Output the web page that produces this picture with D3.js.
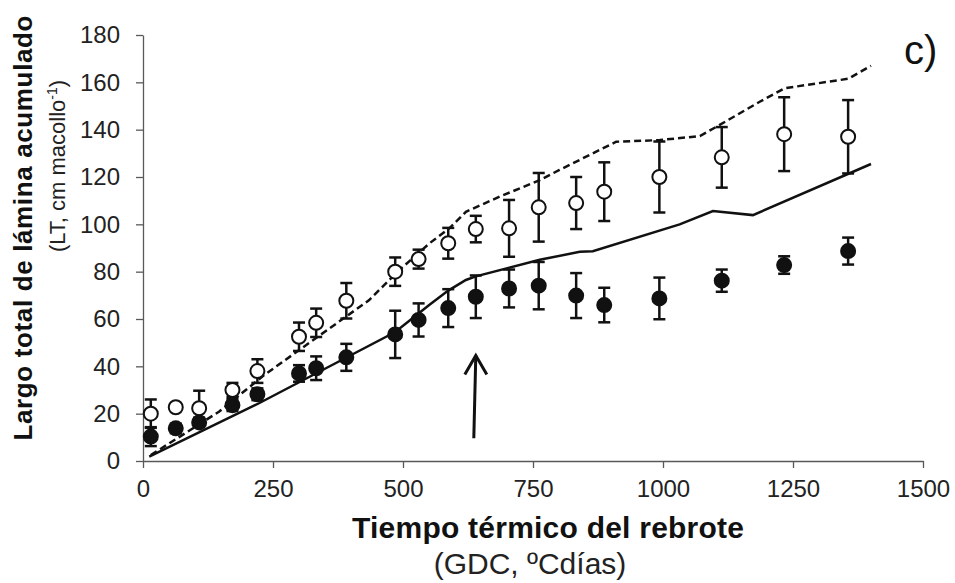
<html>
<meta charset="utf-8">
<script src="https://d3js.org/d3.v7.min.js"></script>
<style>
  body { margin: 0; background: white; }
  text { font-family: "Liberation Sans", Arial, sans-serif; }
</style>
<body>
<div id="chart"></div>
<script>

// observed points (GDC, LT) with error bars
var gdc = [15, 63, 108, 172, 220, 300, 333, 391, 485, 530, 587, 640, 704, 761, 833, 887, 993, 1113, 1233, 1356]
var ltOpen = [20, 22.7, 22.3, 30, 38, 52.5, 58.4, 67.7, 80, 85.3, 92, 98, 98.3, 107.2, 109, 113.8, 120, 128.3, 138.1, 137]
var errOpen = [6, 1.5, 7.4, 3, 5, 6, 6, 7.5, 6, 4, 6.5, 5.6, 12, 14.5, 11, 12.4, 15, 12.8, 15.6, 15.5]
var ltFilled = [10.3, 13.8, 16.3, 23.6, 28.2, 37, 39.2, 43.8, 53.5, 59.6, 64.6, 69.4, 72.9, 74.1, 69.9, 65.9, 68.7, 76.2, 82.8, 88.7]
var errFilled = [4, 2, 2, 2.5, 2.5, 3.5, 5, 5.7, 10, 7, 8, 9, 8, 10, 9.5, 7.3, 8.8, 4.7, 3.7, 5.7]

// simulated lines
var simDashedX = [15, 146, 233, 435, 493, 551, 589, 621, 686, 763, 801, 910, 994, 1071, 1109, 1186, 1234, 1356, 1400]
var simDashedY = [2.5, 20.8, 36.3, 68, 80.7, 92, 98.3, 105.3, 111.7, 118.7, 123, 134.9, 135.6, 137.3, 142, 151.8, 157.5, 161.5, 167]
var simSolidX = [12, 223, 485, 551, 587, 621, 640, 763, 840, 865, 1032, 1096, 1173, 1400]
var simSolidY = [1.8, 24.4, 54.5, 66, 72, 76.5, 78, 85, 88.4, 88.6, 100, 105.6, 103.9, 125.5]

var xTicks = [0, 250, 500, 750, 1000, 1250, 1500]
var yTicks = [0, 20, 40, 60, 80, 100, 120, 140, 160, 180]

// arrow marking the change (GDC, LT from -> to)
var arrowAt = [640, 9.6, 44.6]

var width = 955, height = 583
var margin = {left: 143, right: 32, top: 35, bottom: 122}

var svg = d3.select("#chart").append("svg")
  .attr("width", width).attr("height", height)

var x = d3.scaleLinear().domain([0, 1500]).range([margin.left, width - margin.right])
var y = d3.scaleLinear().domain([0, 180]).range([height - margin.bottom, margin.top])

// axes
var xAxis = svg.append("g")
  .attr("transform", "translate(0," + y(0) + ")")
  .call(d3.axisBottom(x).tickValues(xTicks).tickFormat(d3.format("d"))
    .tickSize(7).tickSizeOuter(0).tickPadding(12))
var yAxis = svg.append("g")
  .attr("transform", "translate(" + x(0) + ",0)")
  .call(d3.axisLeft(y).tickValues(yTicks).tickSize(7).tickSizeOuter(0).tickPadding(16))

svg.selectAll(".domain, .tick line").attr("stroke", "#595959").attr("stroke-width", 1.3)
xAxis.selectAll("text").attr("font-size", 24).attr("fill", "#222")
  .attr("font-family", "Liberation Sans, Arial, sans-serif")
yAxis.selectAll("text").attr("font-size", 24).attr("fill", "#222")
  .attr("font-family", "Liberation Sans, Arial, sans-serif")

// lines
var line = d3.line().x(function(d){ return x(d[0]) }).y(function(d){ return y(d[1]) })
svg.append("path")
  .datum(d3.zip(simDashedX, simDashedY))
  .attr("d", line).attr("fill", "none").attr("stroke", "#111")
  .attr("stroke-width", 2.5).attr("stroke-dasharray", "7,4")
svg.append("path")
  .datum(d3.zip(simSolidX, simSolidY))
  .attr("d", line).attr("fill", "none").attr("stroke", "#111")
  .attr("stroke-width", 2.5)

function drawSeries(vals, errs, fillCol){
  var data = gdc.map(function(g, i){ return {g: g, v: vals[i], e: errs[i]} })
  var bars = svg.append("g").attr("stroke", "#111").attr("stroke-width", 2.5)
  data.forEach(function(d){
    bars.append("line").attr("x1", x(d.g)).attr("x2", x(d.g))
      .attr("y1", y(d.v - d.e)).attr("y2", y(d.v + d.e))
    bars.append("line").attr("x1", x(d.g) - 6).attr("x2", x(d.g) + 6)
      .attr("y1", y(d.v + d.e)).attr("y2", y(d.v + d.e))
    bars.append("line").attr("x1", x(d.g) - 6).attr("x2", x(d.g) + 6)
      .attr("y1", y(d.v - d.e)).attr("y2", y(d.v - d.e))
  })
  svg.append("g").selectAll("circle").data(data).enter().append("circle")
    .attr("cx", function(d){ return x(d.g) })
    .attr("cy", function(d){ return y(d.v) })
    .attr("r", 7)
    .attr("fill", fillCol).attr("stroke", "#111").attr("stroke-width", 2)
}
drawSeries(ltOpen, errOpen, "white")
drawSeries(ltFilled, errFilled, "#111")

// arrow
var ax = x(arrowAt[0]), ay0 = y(arrowAt[1]), ay1 = y(arrowAt[2])
svg.append("path")
  .attr("d", "M" + (ax - 2) + "," + ay0 + "L" + ax + "," + ay1)
  .attr("stroke", "#111").attr("stroke-width", 3).attr("fill", "none")
svg.append("path")
  .attr("d", "M" + (ax - 11) + "," + (ay1 + 19) + "L" + ax + "," + ay1 + "L" + (ax + 11) + "," + (ay1 + 19))
  .attr("stroke", "#111").attr("stroke-width", 3).attr("fill", "none")

// panel label
svg.append("text").attr("x", 904).attr("y", 64).attr("font-size", 40).attr("fill", "#111").text("c)")

// axis titles
svg.append("text").attr("x", 548).attr("y", 538).attr("text-anchor", "middle")
  .attr("font-size", 30).attr("font-weight", "bold").attr("fill", "#111")
  .attr("textLength", 392)
  .text("Tiempo térmico del rebrote")
svg.append("text").attr("x", 530).attr("y", 574).attr("text-anchor", "middle")
  .attr("font-size", 30).attr("fill", "#222")
  .text("(GDC, ºCdías)")

svg.append("text")
  .attr("transform", "translate(32,228) rotate(-90)")
  .attr("text-anchor", "middle")
  .attr("font-size", 26).attr("font-weight", "bold").attr("fill", "#111")
  .attr("textLength", 425)
  .text("Largo total de lámina acumulado")

var sub = svg.append("text")
  .attr("transform", "translate(65,166) rotate(-90)")
  .attr("text-anchor", "middle")
  .attr("font-size", 22).attr("fill", "#222")
sub.append("tspan").text("(LT, cm macollo")
sub.append("tspan").attr("dy", -8).attr("font-size", 14).text("-1")
sub.append("tspan").attr("dy", 8).text(")")

</script>
</body>
</html>
